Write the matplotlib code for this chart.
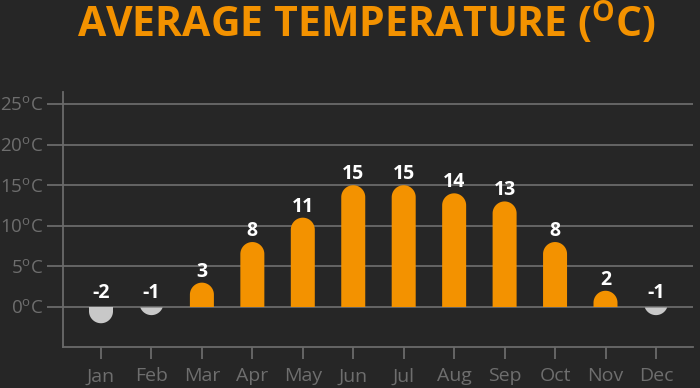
import numpy as np
import matplotlib
matplotlib.use("Agg")
import matplotlib.pyplot as plt
from matplotlib.patches import Polygon

months = ["Jan", "Feb", "Mar", "Apr", "May", "Jun", "Jul", "Aug", "Sep", "Oct", "Nov", "Dec"]
temps = [-2, -1, 3, 8, 11, 15, 15, 14, 13, 8, 2, -1]
yticks = [0, 5, 10, 15, 20, 25]
title = r"AVERAGE TEMPERATURE ($^{\mathbf{O}}$C)"

BG = "#262626"
ORANGE = "#F39200"
GREYBAR = "#C8C8C8"
GRID = "#6a6a6a"
TICKC = "#6e6e6e"

plt.rcParams["font.family"] = ["Open Sans", "DejaVu Sans"]
plt.rcParams["mathtext.fontset"] = "custom"
plt.rcParams["mathtext.rm"] = "Open Sans"
plt.rcParams["mathtext.bf"] = "Open Sans:bold"

W, H = 700, 388
fig = plt.figure(figsize=(W / 100, H / 100), dpi=100, facecolor=BG)

left_px, right_px, top_px, bot_px = 63, 693, 92, 347
ax = fig.add_axes([left_px / W, 1 - bot_px / H, (right_px - left_px) / W, (bot_px - top_px) / H])
ax.set_facecolor(BG)

x0_px, dx_px = 101, 50.45
zero_px, py_deg = 307, 8.12
xmin = (left_px - x0_px) / dx_px
xmax = (right_px - x0_px) / dx_px
ymin = -(bot_px - zero_px) / py_deg
ymax = (zero_px - top_px) / py_deg
ax.set_xlim(xmin, xmax)
ax.set_ylim(ymin, ymax)

# rounded bars
bar_px = 24
rx = (bar_px / 2) / dx_px
ry = (bar_px / 2) / py_deg
t = np.linspace(0, np.pi, 60)


def rounded_bar(x, v):
    s = 1 if v >= 0 else -1
    h = abs(v)
    c = h - ry
    ex = x + rx * np.cos(t)
    ey = c + ry * np.sin(t)
    if c >= 0:
        xs = np.concatenate([[x + rx], ex, [x - rx]])
        ys = np.concatenate([[0], ey, [0]])
    else:
        m = ey >= 0
        xs, ys = ex[m], ey[m]
    return np.column_stack([xs, s * np.asarray(ys)])


for i, v in enumerate(temps):
    col = ORANGE if v >= 0 else GREYBAR
    ax.add_patch(Polygon(rounded_bar(i, v), closed=True, facecolor=col, edgecolor="none", zorder=3))
    yb = max(v, 0)
    off = 6 if v >= 0 else 9
    ax.annotate(str(v), (i, yb), xytext=(0, off * 0.72), textcoords="offset points",
                ha="center", va="baseline", color="white", fontsize=14, fontweight="bold", zorder=4)

ax.set_yticks(yticks)
ax.set_yticklabels([f"{v}" + r"$^{\mathrm{o}}$" + "C" for v in yticks])
ax.set_xticks(range(len(months)))
ax.set_xticklabels(months)

for v in yticks:
    ax.axhline(v, color=GRID, lw=1.3, zorder=1)

for sp in ["top", "right"]:
    ax.spines[sp].set_visible(False)
for sp in ["left", "bottom"]:
    ax.spines[sp].set_color(GRID)
    ax.spines[sp].set_linewidth(1.3)

ax.tick_params(axis="y", length=16 * 0.72, width=1.3, color=GRID, pad=2.5, labelcolor=TICKC, labelsize=13.5)
ax.tick_params(axis="x", length=12 * 0.72, width=1.3, color=GRID, pad=6, labelcolor=TICKC, labelsize=14)

fig.text(367 / W, 1 - 37 / H, title, ha="center", va="baseline", color=ORANGE,
         fontsize=29.5, fontweight="bold")

fig.savefig("out.png", dpi=100, facecolor=BG)
